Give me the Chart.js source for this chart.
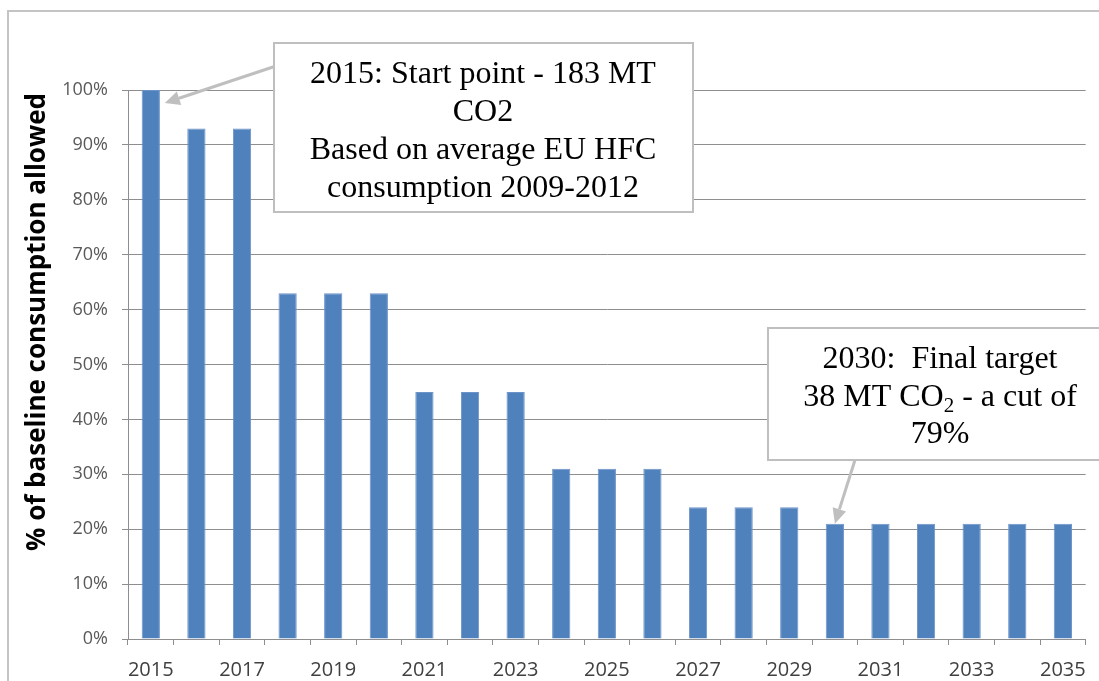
<!DOCTYPE html>
<html lang="en">
<head>
<meta charset="UTF-8">
<title>EU HFC phase-down</title>
<script src="https://cdn.jsdelivr.net/npm/chart.js"></script>
<style>
    html, body { margin: 0; padding: 0; background: #ffffff; }
    #wrap { width: 1099px; height: 681px; position: relative; }
</style>
</head>
<body>
<div id="wrap"><canvas id="grafica"></canvas></div>
<script>
    // datos
    const years = [2015, 2016, 2017, 2018, 2019, 2020, 2021, 2022, 2023, 2024, 2025,
                   2026, 2027, 2028, 2029, 2030, 2031, 2032, 2033, 2034, 2035];
    const allowed = [100, 93, 93, 63, 63, 63, 45, 45, 45, 31, 31, 31, 24, 24, 24, 21, 21, 21, 21, 21, 21];
    const yMin = 0, yMax = 100, yStep = 10;
    const yTitle = '% of baseline consumption allowed';
    const note1 = ['2015: Start point - 183 MT', 'CO2', 'Based on average EU HFC', 'consumption 2009-2012'];
    const note2 = ['2030:  Final target', '38 MT CO|2| - a cut of', '79%'];

    const gris = '#8e8e8e';
    const grisNota = '#bfbfbf';
    const serif = '"Liberation Serif", "Times New Roman", serif';

    function flecha(ctx, x1, y1, x2, y2) {
        const ang = Math.atan2(y2 - y1, x2 - x1);
        const largo = 15, ancho = 7;
        const bx = x2 - largo * Math.cos(ang), by = y2 - largo * Math.sin(ang);
        ctx.save();
        ctx.strokeStyle = grisNota;
        ctx.fillStyle = grisNota;
        ctx.lineWidth = 3;
        ctx.beginPath();
        ctx.moveTo(x1, y1);
        ctx.lineTo(bx, by);
        ctx.stroke();
        ctx.beginPath();
        ctx.moveTo(x2, y2);
        ctx.lineTo(bx + ancho * Math.sin(ang), by - ancho * Math.cos(ang));
        ctx.lineTo(bx - ancho * Math.sin(ang), by + ancho * Math.cos(ang));
        ctx.closePath();
        ctx.fill();
        ctx.restore();
    }

    function caja(ctx, x, y, w, h) {
        ctx.save();
        ctx.fillStyle = '#ffffff';
        ctx.fillRect(x, y, w, h);
        ctx.strokeStyle = grisNota;
        ctx.lineWidth = 2;
        ctx.strokeRect(x, y, w, h);
        ctx.restore();
    }

    // linea centrada; el texto entre | | va como subindice
    function linea(ctx, txt, cx, cy, size) {
        const partes = txt.split('|');
        const fNormal = size + 'px ' + serif;
        const fSub = Math.round(size * 0.65) + 'px ' + serif;
        let total = 0;
        partes.forEach((p, i) => {
            ctx.font = i % 2 ? fSub : fNormal;
            total += ctx.measureText(p).width;
        });
        let x = cx - total / 2;
        ctx.textAlign = 'left';
        ctx.textBaseline = 'alphabetic';
        partes.forEach((p, i) => {
            ctx.font = i % 2 ? fSub : fNormal;
            ctx.fillText(p, x, cy + (i % 2 ? size * 0.2 : 0));
            x += ctx.measureText(p).width;
        });
    }

    const marco = {
        id: 'marco',
        beforeDraw(chart) {
            const ctx = chart.ctx;
            ctx.save();
            ctx.fillStyle = '#ffffff';
            ctx.fillRect(0, 0, chart.width, chart.height);
            ctx.strokeStyle = '#c4c4c4';
            ctx.lineWidth = 2;
            ctx.strokeRect(8, 11, chart.width + 20, chart.height + 20);
            ctx.restore();
        }
    };

    const notas = {
        id: 'notas',
        afterDraw(chart) {
            const ctx = chart.ctx;
            const xs = chart.scales.x, ys = chart.scales.y;

            // titulo del eje y
            ctx.save();
            ctx.translate(45, 322);
            ctx.rotate(-Math.PI / 2);
            ctx.font = 'bold 26px "Open Sans", sans-serif';
            ctx.fillStyle = '#000000';
            ctx.textAlign = 'center';
            ctx.textBaseline = 'alphabetic';
            ctx.fillText(yTitle, 0, 0);
            ctx.restore();

            ctx.save();
            ctx.fillStyle = '#000000';

            // nota 2015
            flecha(ctx, 276, 66, xs.getPixelForValue(0) + 14, ys.getPixelForValue(allowed[0]) + 13);
            caja(ctx, 274, 43, 419, 169);
            note1.forEach((t, i) => linea(ctx, t, 483, 83 + i * 38, 32));

            // nota 2030
            flecha(ctx, 855, 460, xs.getPixelForValue(15), ys.getPixelForValue(allowed[15]));
            caja(ctx, 768, 328, 360, 132);
            note2.forEach((t, i) => linea(ctx, t, 940, 368 + i * 37.5, 32));

            ctx.restore();
        }
    };

    new Chart(document.getElementById('grafica'), {
        type: 'bar',
        data: {
            labels: years,
            datasets: [{
                data: allowed,
                backgroundColor: '#4f81bd',
                borderColor: '#6d94c8',
                borderWidth: 1,
                barPercentage: 0.4,
                categoryPercentage: 1
            }]
        },
        options: {
            responsive: true,
            maintainAspectRatio: false,
            animation: false,
            layout: { padding: { top: 90, right: 11, left: 0, bottom: 0 } },
            plugins: {
                legend: { display: false },
                tooltip: { enabled: false }
            },
            scales: {
                x: {
                    grid: { drawOnChartArea: false, drawTicks: true, tickLength: 6, color: gris, offset: true },
                    border: { color: gris },
                    ticks: {
                        autoSkip: false,
                        maxRotation: 0,
                        padding: 13,
                        color: '#404040',
                        font: { family: '"Open Sans", sans-serif', size: 20 },
                        callback: (v, i) => i % 2 === 0 ? years[i] : ''
                    },
                    afterFit: s => { s.height = 42; }
                },
                y: {
                    min: yMin,
                    max: yMax,
                    grid: { color: gris, tickLength: 6 },
                    border: { color: gris },
                    ticks: {
                        stepSize: yStep,
                        padding: 14,
                        color: '#595959',
                        font: { family: '"Open Sans", sans-serif', size: 18 },
                        callback: v => v + '%'
                    },
                    afterFit: s => { s.width = 128; }
                }
            }
        },
        plugins: [marco, notas]
    });
</script>
</body>
</html>
